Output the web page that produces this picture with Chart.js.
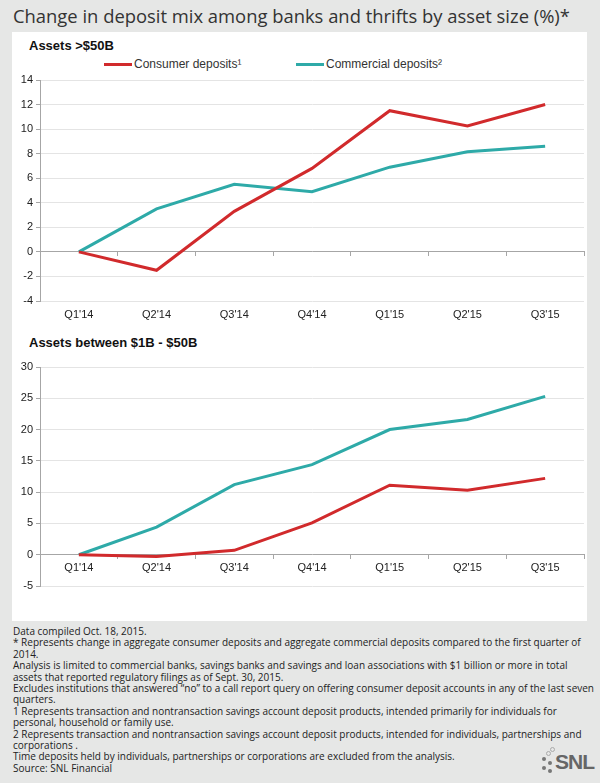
<!DOCTYPE html>
<html lang="en">
<head>
<meta charset="UTF-8">
<title>Change in deposit mix</title>
<script src="https://cdn.jsdelivr.net/npm/chart.js"></script>
<style>
  body { margin: 0; background: #e6e7e6; width: 600px; height: 783px; position: relative; overflow: hidden; }
  .main-title { position: absolute; left: 13px; top: 3px; font: 18.4px "Open Sans", sans-serif; color: #333; white-space: nowrap; }
  .panel { position: absolute; left: 12px; top: 32px; width: 575px; height: 589px; background: #fff; }
  .sub { position: absolute; left: 29px; font: bold 13px "Liberation Sans", Arial, sans-serif; color: #111; }
  .legend { position: absolute; top: 57px; font: 12px "Liberation Sans", Arial, sans-serif; color: #333; white-space: nowrap; }
  .legend span.sw { display: inline-block; width: 28px; height: 3px; vertical-align: middle; margin-right: 2px; }
  canvas { position: absolute; left: 12px; }
  .notes { position: absolute; left: 13px; top: 626px; font: 10px/11.4px "Open Sans", sans-serif; color: #222; white-space: nowrap; }
  .logo { position: absolute; left: 555px; top: 750px; font: bold 21px "Liberation Sans", Arial, sans-serif; color: #666; letter-spacing: -1px; }
  .dot { position: absolute; width: 4px; height: 4px; border-radius: 50%; background: #777; }
  .dot.o { background: none; border: 1px solid #aaa; width: 3px; height: 3px; }
</style>
</head>
<body>
<div class="main-title">Change in deposit mix among banks and thrifts by asset size (%)*</div>
<div class="panel"></div>
<div class="sub" style="top:38px">Assets &gt;$50B</div>
<div class="legend" style="left:104px"><span class="sw" style="background:#d12a2c"></span>Consumer deposits¹</div>
<div class="legend" style="left:296px"><span class="sw" style="background:#2eaaa8"></span>Commercial deposits²</div>
<canvas id="topChart" width="575" height="258" style="top:70px"></canvas>
<div class="sub" style="top:335px">Assets between $1B - $50B</div>
<canvas id="bottomChart" width="575" height="241" style="top:357px"></canvas>
<div class="notes">
Data compiled Oct. 18, 2015.<br>
* Represents change in aggregate consumer deposits and aggregate commercial deposits compared to the first quarter of<br>
2014.<br>
Analysis is limited to commercial banks, savings banks and savings and loan associations with $1 billion or more in total<br>
assets that reported regulatory filings as of Sept. 30, 2015.<br>
Excludes institutions that answered “no” to a call report query on offering consumer deposit accounts in any of the last seven<br>
quarters.<br>
1 Represents transaction and nontransaction savings account deposit products, intended primarily for individuals for<br>
personal, household or family use.<br>
2 Represents transaction and nontransaction savings account deposit products, intended for individuals, partnerships and<br>
corporations .<br>
Time deposits held by individuals, partnerships or corporations are excluded from the analysis.<br>
Source: SNL Financial
</div>
<span class="dot o" style="left:546px;top:751px"></span>
<span class="dot o" style="left:550px;top:747px"></span>
<span class="dot" style="left:542px;top:757px"></span>
<span class="dot" style="left:548px;top:761px"></span>
<span class="dot" style="left:542px;top:766px"></span>
<span class="dot" style="left:548px;top:769px"></span>
<div class="logo">SNL</div>

<script>
  const quarters = ["Q1'14", "Q2'14", "Q3'14", "Q4'14", "Q1'15", "Q2'15", "Q3'15"];
  const seriesNames = ["Consumer deposits¹", "Commercial deposits²"];

  const largeConsumer = [0, -1.5, 3.3, 6.8, 11.5, 10.25, 12.0];
  const largeCommercial = [0, 3.5, 5.5, 4.9, 6.9, 8.15, 8.6];

  const midConsumer = [0, -0.3, 0.7, 5.1, 11.1, 10.3, 12.2];
  const midCommercial = [0, 4.4, 11.2, 14.4, 20.0, 21.6, 25.3];

  const largeTicks = { min: -4, max: 14, step: 2 };
  const midTicks = { min: -5, max: 30, step: 5 };

  const red = "#d12a2c";
  const teal = "#2eaaa8";
  const axisGray = "#a6a6a6";
  const gridGray = "#e4e4e4";
  const tickFont = { family: "Liberation Sans", size: 11 };

  Chart.defaults.animation = false;
  Chart.defaults.color = "#222";

  function makeDatasets(consumer, commercial) {
    return [
      { label: seriesNames[0], data: consumer, borderColor: red, backgroundColor: red, borderWidth: 3, pointRadius: 0, tension: 0 },
      { label: seriesNames[1], data: commercial, borderColor: teal, backgroundColor: teal, borderWidth: 3, pointRadius: 0, tension: 0 }
    ];
  }

  function yAxis(t) {
    return {
      min: t.min, max: t.max,
      ticks: { stepSize: t.step, font: tickFont, padding: 3 },
      grid: { color: gridGray, tickColor: axisGray, tickLength: 4 },
      border: { color: axisGray },
      afterFit: function (s) { s.width = 28; }
    };
  }

  // top chart: axis line sits on zero, labels at the bottom
  new Chart(document.getElementById('topChart'), {
    type: 'line',
    data: { labels: quarters, datasets: makeDatasets(largeConsumer, largeCommercial) },
    options: {
      responsive: false,
      layout: { padding: { top: 10, right: 3, left: 0, bottom: 0 } },
      plugins: { legend: { display: false }, tooltip: { enabled: false } },
      scales: {
        x: {
          position: { y: 0 }, offset: true,
          ticks: { display: false },
          grid: { offset: true, drawOnChartArea: false, color: axisGray, tickLength: 4 },
          border: { color: axisGray }
        },
        xLabels: {
          type: 'category', position: 'bottom', offset: true,
          ticks: { font: tickFont, padding: 7 },
          grid: { display: false, drawTicks: false, tickLength: 0 },
          border: { display: false },
          afterFit: function (s) { s.height = 27; }
        },
        y: yAxis(largeTicks)
      }
    }
  });

  // bottom chart: labels hang under the zero line
  new Chart(document.getElementById('bottomChart'), {
    type: 'line',
    data: { labels: quarters, datasets: makeDatasets(midConsumer, midCommercial) },
    options: {
      responsive: false,
      layout: { padding: { top: 10, right: 3, left: 0, bottom: 12 } },
      plugins: { legend: { display: false }, tooltip: { enabled: false } },
      scales: {
        x: {
          position: { y: 0 }, offset: true,
          ticks: { font: tickFont, padding: 3 },
          grid: { offset: true, drawOnChartArea: false, color: axisGray, tickLength: 4 },
          border: { color: axisGray }
        },
        y: yAxis(midTicks)
      }
    }
  });
</script>
</body>
</html>
